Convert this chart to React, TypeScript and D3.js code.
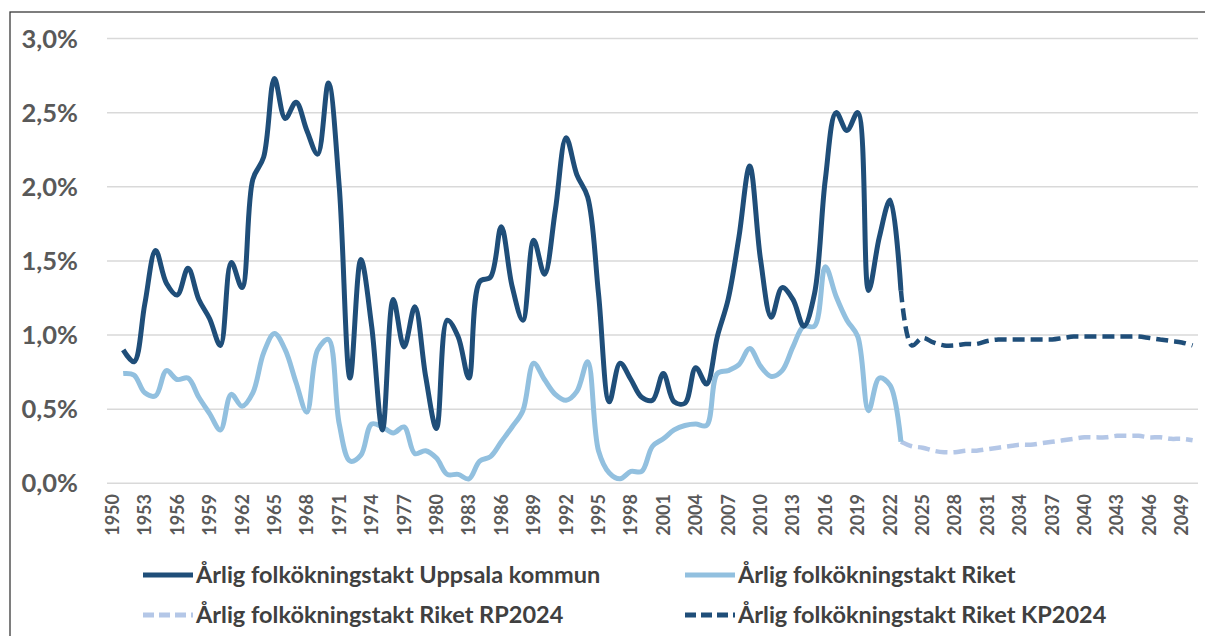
import React, { useRef, useEffect } from "react";
import * as d3 from "d3";

// years on the category axis
const years = d3.range(1950, 2051);
const tickYears = years.filter((y) => (y - 1950) % 3 === 0);
const yTicks = [0, 0.5, 1, 1.5, 2, 2.5, 3];

// Årlig folkökningstakt Uppsala kommun, 1951-2023 (%)
const uppsalaYears = d3.range(1951, 2024);
const uppsala = [
  0.9, 0.82, 1.21, 1.57, 1.35, 1.27, 1.45, 1.24, 1.11, 0.93,
  1.49, 1.32, 2.05, 2.2, 2.73, 2.46, 2.57, 2.38, 2.22, 2.7,
  2.0, 0.71, 1.51, 1.06, 0.36, 1.24, 0.92, 1.19, 0.72, 0.37,
  1.1, 0.99, 0.71, 1.36, 1.39, 1.73, 1.33, 1.1, 1.64, 1.41,
  1.84, 2.33, 2.08, 1.93, 1.28, 0.55, 0.81, 0.7, 0.58, 0.56,
  0.74, 0.55, 0.54, 0.78, 0.67, 0.99, 1.24, 1.66, 2.14, 1.51,
  1.12, 1.32, 1.24, 1.06, 1.28, 2.05, 2.5, 2.38, 2.5, 1.3,
  1.66, 1.91, 1.3,
];

// Årlig folkökningstakt Riket, 1951-2023 (%)
const riket = [
  0.74, 0.73, 0.61, 0.59, 0.76, 0.7, 0.71, 0.58, 0.47, 0.36,
  0.6, 0.52, 0.61, 0.88, 1.01, 0.9, 0.68, 0.48, 0.9, 0.97,
  0.4, 0.15, 0.19, 0.4, 0.38, 0.34, 0.38, 0.2, 0.22, 0.17,
  0.06, 0.06, 0.03, 0.15, 0.18, 0.28, 0.38, 0.49, 0.81, 0.7,
  0.6, 0.56, 0.62, 0.82, 0.22, 0.07, 0.03, 0.08, 0.08, 0.25,
  0.3, 0.36, 0.39, 0.4, 0.39, 0.74, 0.76, 0.8, 0.91, 0.79,
  0.72, 0.76, 0.92, 1.06, 1.06, 1.46, 1.26, 1.1, 0.99, 0.49,
  0.71, 0.66, 0.28,
];

// projections 2023-2050 (%)
const projYears = d3.range(2023, 2051);
const riketKP2024 = [
  1.3, 0.93, 0.98, 0.95, 0.93, 0.93, 0.94, 0.94, 0.96, 0.97,
  0.97, 0.97, 0.97, 0.97, 0.97, 0.98, 0.99, 0.99, 0.99, 0.99,
  0.99, 0.99, 0.99, 0.98, 0.97, 0.96, 0.95, 0.93,
];
const riketRP2024 = [
  0.28, 0.25, 0.24, 0.22, 0.21, 0.21, 0.22, 0.22, 0.23, 0.24,
  0.25, 0.26, 0.26, 0.27, 0.28, 0.29, 0.3, 0.31, 0.31, 0.31,
  0.32, 0.32, 0.32, 0.31, 0.31, 0.3, 0.3, 0.29,
];

const DARK = "#1F4E79";
const LIGHT = "#92C0DF";
const LIGHT_DASH = "#B4C7E7";
const FONT = "Lato, 'Open Sans', sans-serif";

const App = () => {
  const svgRef = useRef<SVGSVGElement | null>(null);
  const width = 1205;
  const height = 636;
  const margin = { top: 38.5, right: 7, bottom: 152.7, left: 107 };

  useEffect(() => {
    const svg = d3.select(svgRef.current);
    svg.selectAll("*").remove();

    const x = d3
      .scalePoint<number>()
      .domain(years)
      .range([margin.left, width - margin.right])
      .padding(0.5);
    const y = d3
      .scaleLinear()
      .domain([0, 3])
      .range([height - margin.bottom, margin.top]);

    svg.append("rect").attr("width", width).attr("height", height).attr("fill", "#fff");

    // outer frame
    svg
      .append("rect")
      .attr("x", 10)
      .attr("y", 12)
      .attr("width", 1210)
      .attr("height", 650)
      .attr("fill", "none")
      .attr("stroke", "#3a3a3a")
      .attr("stroke-width", 1.3);

    // gridlines + y labels
    yTicks.forEach((t) => {
      svg
        .append("line")
        .attr("x1", margin.left)
        .attr("x2", width - margin.right)
        .attr("y1", y(t))
        .attr("y2", y(t))
        .attr("stroke", "#d9d9d9")
        .attr("stroke-width", 1.5);
      svg
        .append("text")
        .attr("x", 78)
        .attr("y", y(t))
        .attr("dy", "0.36em")
        .attr("text-anchor", "end")
        .style("font-family", FONT)
        .style("font-weight", "bold")
        .style("font-size", "25.5px")
        .style("fill", "#595959")
        .text(d3.format(".1f")(t).replace(".", ",") + "%");
    });

    // x labels
    tickYears.forEach((yr) => {
      svg
        .append("text")
        .attr("transform", `translate(${x(yr)}, 494) rotate(-90)`)
        .attr("dy", "0.36em")
        .attr("text-anchor", "end")
        .style("font-family", FONT)
        .style("font-weight", "bold")
        .style("font-size", "18px")
        .style("fill", "#595959")
        .text(yr);
    });

    const line = d3
      .line<[number, number]>()
      .x((d) => x(d[0]) as number)
      .y((d) => y(d[1]))
      .curve(d3.curveCatmullRom);

    const series = [
      { yrs: projYears, vals: riketRP2024, color: LIGHT_DASH, dash: "12 6", w: 4.5 },
      { yrs: projYears, vals: riketKP2024, color: DARK, dash: "12 6", w: 4.5 },
      { yrs: uppsalaYears, vals: riket, color: LIGHT, dash: null, w: 5 },
      { yrs: uppsalaYears, vals: uppsala, color: DARK, dash: null, w: 5 },
    ];
    series.forEach((s) => {
      svg
        .append("path")
        .datum(s.yrs.map((yr, i) => [yr, s.vals[i]] as [number, number]))
        .attr("fill", "none")
        .attr("stroke", s.color)
        .attr("stroke-width", s.w)
        .attr("stroke-dasharray", s.dash)
        .attr("stroke-linejoin", "round")
        .attr("d", line);
    });

    // legend
    const legendItems = [
      { label: "Årlig folkökningstakt Uppsala kommun", color: DARK, dash: null, x: 143, y: 575 },
      { label: "Årlig folkökningstakt Riket", color: LIGHT, dash: null, x: 685, y: 575 },
      { label: "Årlig folkökningstakt Riket RP2024", color: LIGHT_DASH, dash: "11 5", x: 143, y: 615 },
      { label: "Årlig folkökningstakt Riket KP2024", color: DARK, dash: "11 5", x: 685, y: 615 },
    ];
    legendItems.forEach((item) => {
      const g = svg.append("g").attr("transform", `translate(${item.x}, ${item.y})`);
      g.append("line")
        .attr("x1", 0)
        .attr("x2", 50)
        .attr("stroke", item.color)
        .attr("stroke-width", 5)
        .attr("stroke-dasharray", item.dash);
      g.append("text")
        .attr("x", 53)
        .attr("dy", "0.36em")
        .style("font-family", FONT)
        .style("font-weight", "bold")
        .style("font-size", "23.5px")
        .style("fill", "#404040")
        .text(item.label);
    });
  }, []);

  return (
    <svg
      ref={svgRef}
      width={width}
      height={height}
      style={{ position: "absolute", left: 0, top: 0 }}
    ></svg>
  );
};

export default App;
